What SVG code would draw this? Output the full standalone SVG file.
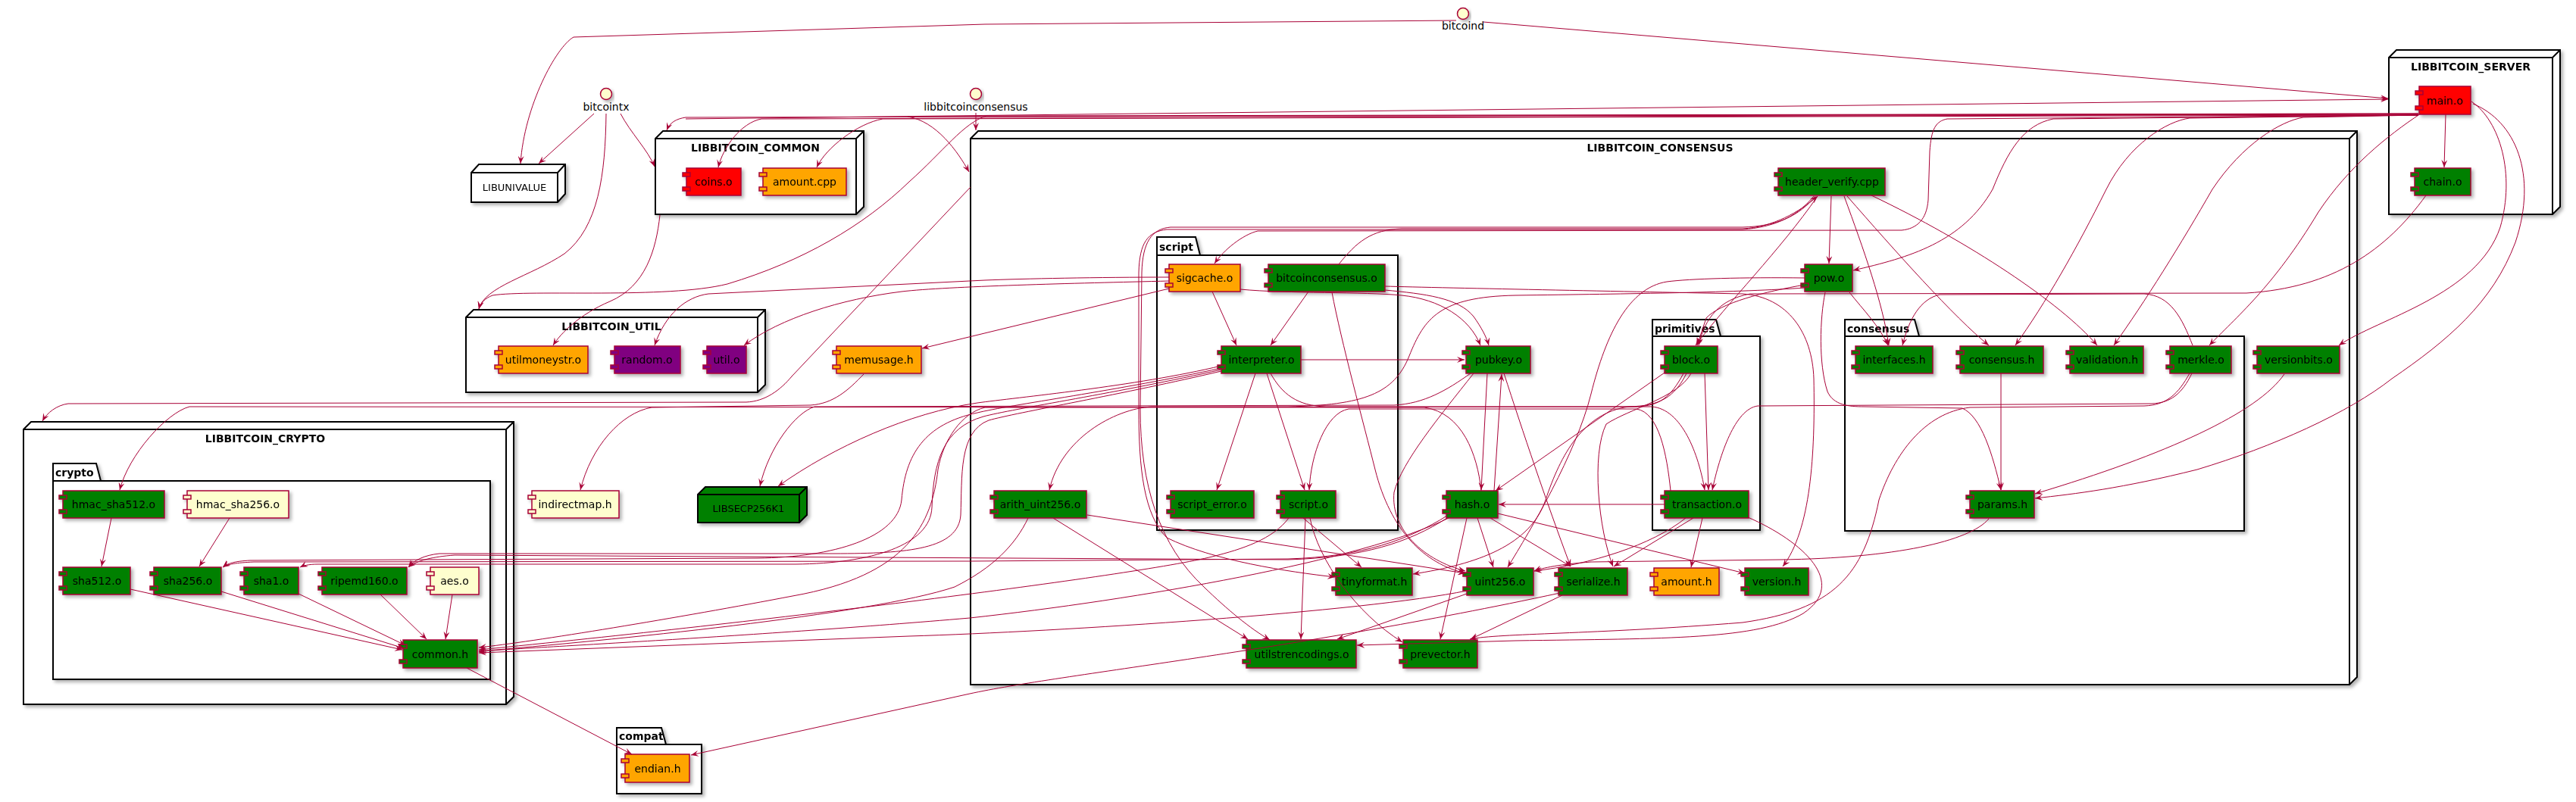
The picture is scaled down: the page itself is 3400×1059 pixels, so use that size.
<svg xmlns="http://www.w3.org/2000/svg" width="3400" height="1059" viewBox="0 0 3400 1059">
<style>
text{font-family:"DejaVu Sans","Liberation Sans",sans-serif;fill:#000}
.nd{fill:#fff;stroke:#000;stroke-width:2}
.ndl{fill:none;stroke:#000;stroke-width:2}
.ndt{font-size:14px;font-weight:bold;text-anchor:middle}
.lf{font-size:13px;text-anchor:middle}
.pk{fill:#fff;stroke:#000;stroke-width:2}
.pkt{font-size:14px;font-weight:bold}
.cp rect{stroke:#A80036;stroke-width:1.5}
.cp text{font-size:14px;text-anchor:middle}
.g rect{fill:#008000}.r rect{fill:#FF0000}.o rect{fill:#FFA500}.p rect{fill:#800080}.y rect{fill:#FEFECE}
.if circle{fill:#FEFECE;stroke:#A80036;stroke-width:1.5}
.if text{font-size:14px;text-anchor:middle}
.e path{fill:none;stroke:#A80036;stroke-width:1;marker-end:url(#a)}
</style>
<defs>
<marker id="a" viewBox="0 0 10 8" refX="10" refY="4" markerWidth="10" markerHeight="8" markerUnits="userSpaceOnUse" orient="auto"><path d="M0,0 L10,4 L0,8 L4,4 Z" fill="#A80036"/></marker>
<filter id="sh" x="-10%" y="-10%" width="130%" height="150%"><feDropShadow dx="3" dy="3" stdDeviation="2" flood-color="#000" flood-opacity="0.3"/></filter>
</defs>
<rect width="3400" height="1059" fill="#fff"/>

<!-- container nodes -->
<g id="LIBBITCOIN_CONSENSUS" filter="url(#sh)"><polygon class="nd" points="1281,183 1291,173 3111,173 3111,894 3101,904 1281,904"/><path class="ndl" d="M1281,183 L3101,183 L3111,173 M3101,183 L3101,904"/><text class="ndt" x="2191" y="200">LIBBITCOIN_CONSENSUS</text></g>
<g id="LIBBITCOIN_SERVER" filter="url(#sh)"><polygon class="nd" points="3153,76 3163,66 3379,66 3379,273 3369,283 3153,283"/><path class="ndl" d="M3153,76 L3369,76 L3379,66 M3369,76 L3369,283"/><text class="ndt" x="3261" y="93">LIBBITCOIN_SERVER</text></g>
<g id="LIBBITCOIN_COMMON" filter="url(#sh)"><polygon class="nd" points="865,183 875,173 1140,173 1140,273 1130,283 865,283"/><path class="ndl" d="M865,183 L1130,183 L1140,173 M1130,183 L1130,283"/><text class="ndt" x="997" y="200">LIBBITCOIN_COMMON</text></g>
<g id="LIBBITCOIN_UTIL" filter="url(#sh)"><polygon class="nd" points="615,419 625,409 1010,409 1010,508 1000,518 615,518"/><path class="ndl" d="M615,419 L1000,419 L1010,409 M1000,419 L1000,518"/><text class="ndt" x="807" y="436">LIBBITCOIN_UTIL</text></g>
<g id="LIBBITCOIN_CRYPTO" filter="url(#sh)"><polygon class="nd" points="31,567 41,557 678,557 678,920 668,930 31,930"/><path class="ndl" d="M31,567 L668,567 L678,557 M668,567 L668,930"/><text class="ndt" x="350" y="584">LIBBITCOIN_CRYPTO</text></g>
<g id="LIBUNIVALUE" filter="url(#sh)"><polygon class="nd" points="622,228 632,217 746,217 746,256 736,267 622,267"/><path class="ndl" d="M622,228 L736,228 L746,217 M736,228 L736,267"/><text class="lf" x="679" y="252">LIBUNIVALUE</text></g>
<g id="LIBSECP256K1" filter="url(#sh)"><polygon class="nd" style="fill:#008000" points="921,653 931,643 1065,643 1065,680 1055,690 921,690"/><path class="ndl" d="M921,653 L1055,653 L1065,643 M1055,653 L1055,690"/><text class="lf" x="988" y="676">LIBSECP256K1</text></g>

<!-- packages -->
<g id="pkg_script" filter="url(#sh)"><path class="pk" d="M1527,337 L1527,313 L1578,313 L1584,337 Z"/><rect class="pk" x="1527" y="337" width="318" height="363"/><text class="pkt" x="1530" y="331">script</text></g>
<g id="pkg_primitives" filter="url(#sh)"><path class="pk" d="M2181,444 L2181,422 L2265,422 L2271,444 Z"/><rect class="pk" x="2181" y="444" width="142" height="256"/><text class="pkt" x="2184" y="439">primitives</text></g>
<g id="pkg_consensus" filter="url(#sh)"><path class="pk" d="M2435,444 L2435,422 L2527,422 L2533,444 Z"/><rect class="pk" x="2435" y="444" width="527" height="257"/><text class="pkt" x="2438" y="439">consensus</text></g>
<g id="pkg_crypto" filter="url(#sh)"><path class="pk" d="M70,635 L70,612 L127,612 L133,635 Z"/><rect class="pk" x="70" y="635" width="577" height="262"/><text class="pkt" x="73" y="629">crypto</text></g>
<g id="pkg_compat" filter="url(#sh)"><path class="pk" d="M814,983 L814,961 L873,961 L879,983 Z"/><rect class="pk" x="814" y="983" width="112" height="65"/><text class="pkt" x="817" y="977">compat</text></g>

<!-- interfaces -->
<g id="bitcoind" class="if"><circle cx="1931" cy="18" r="7.5" filter="url(#sh)"/><text x="1931" y="39">bitcoind</text></g>
<g id="bitcointx" class="if"><circle cx="800" cy="124" r="7.5" filter="url(#sh)"/><text x="800" y="146">bitcointx</text></g>
<g id="libbitcoinconsensus" class="if"><circle cx="1288" cy="124" r="7.5" filter="url(#sh)"/><text x="1288" y="146">libbitcoinconsensus</text></g>

<!-- components -->
<g id="coins_o" class="cp r" filter="url(#sh)"><rect x="906" y="222" width="72" height="36"/><rect x="901" y="228" width="10" height="5"/><rect x="901" y="247" width="10" height="5"/><text x="942" y="245">coins.o</text></g>
<g id="amount_cpp" class="cp o" filter="url(#sh)"><rect x="1007" y="222" width="110" height="36"/><rect x="1002" y="228" width="10" height="5"/><rect x="1002" y="247" width="10" height="5"/><text x="1062" y="245">amount.cpp</text></g>
<g id="utilmoneystr_o" class="cp o" filter="url(#sh)"><rect x="658" y="457" width="118" height="36"/><rect x="653" y="463" width="10" height="5"/><rect x="653" y="482" width="10" height="5"/><text x="717" y="480">utilmoneystr.o</text></g>
<g id="random_o" class="cp p" filter="url(#sh)"><rect x="811" y="457" width="87" height="36"/><rect x="806" y="463" width="10" height="5"/><rect x="806" y="482" width="10" height="5"/><text x="854" y="480">random.o</text></g>
<g id="util_o" class="cp p" filter="url(#sh)"><rect x="933" y="457" width="52" height="36"/><rect x="928" y="463" width="10" height="5"/><rect x="928" y="482" width="10" height="5"/><text x="959" y="480">util.o</text></g>
<g id="memusage_h" class="cp o" filter="url(#sh)"><rect x="1104" y="457" width="112" height="36"/><rect x="1099" y="463" width="10" height="5"/><rect x="1099" y="482" width="10" height="5"/><text x="1160" y="480">memusage.h</text></g>
<g id="indirectmap_h" class="cp y" filter="url(#sh)"><rect x="702" y="648" width="115" height="36"/><rect x="697" y="654" width="10" height="5"/><rect x="697" y="673" width="10" height="5"/><text x="759" y="671">indirectmap.h</text></g>
<g id="hmac_sha512_o" class="cp g" filter="url(#sh)"><rect x="83" y="648" width="134" height="36"/><rect x="78" y="654" width="10" height="5"/><rect x="78" y="673" width="10" height="5"/><text x="150" y="671">hmac_sha512.o</text></g>
<g id="hmac_sha256_o" class="cp y" filter="url(#sh)"><rect x="247" y="648" width="134" height="36"/><rect x="242" y="654" width="10" height="5"/><rect x="242" y="673" width="10" height="5"/><text x="314" y="671">hmac_sha256.o</text></g>
<g id="sha512_o" class="cp g" filter="url(#sh)"><rect x="83" y="749" width="89" height="36"/><rect x="78" y="755" width="10" height="5"/><rect x="78" y="774" width="10" height="5"/><text x="128" y="772">sha512.o</text></g>
<g id="sha256_o" class="cp g" filter="url(#sh)"><rect x="203" y="749" width="89" height="36"/><rect x="198" y="755" width="10" height="5"/><rect x="198" y="774" width="10" height="5"/><text x="248" y="772">sha256.o</text></g>
<g id="sha1_o" class="cp g" filter="url(#sh)"><rect x="322" y="749" width="72" height="36"/><rect x="317" y="755" width="10" height="5"/><rect x="317" y="774" width="10" height="5"/><text x="358" y="772">sha1.o</text></g>
<g id="ripemd160_o" class="cp g" filter="url(#sh)"><rect x="425" y="749" width="112" height="36"/><rect x="420" y="755" width="10" height="5"/><rect x="420" y="774" width="10" height="5"/><text x="481" y="772">ripemd160.o</text></g>
<g id="aes_o" class="cp y" filter="url(#sh)"><rect x="568" y="749" width="64" height="36"/><rect x="563" y="755" width="10" height="5"/><rect x="563" y="774" width="10" height="5"/><text x="600" y="772">aes.o</text></g>
<g id="common_h" class="cp g" filter="url(#sh)"><rect x="532" y="845" width="98" height="37"/><rect x="527" y="851" width="10" height="5"/><rect x="527" y="871" width="10" height="5"/><text x="581" y="869">common.h</text></g>
<g id="endian_h" class="cp o" filter="url(#sh)"><rect x="825" y="996" width="85" height="37"/><rect x="820" y="1002" width="10" height="5"/><rect x="820" y="1022" width="10" height="5"/><text x="868" y="1020">endian.h</text></g>
<g id="main_o" class="cp r" filter="url(#sh)"><rect x="3193" y="114" width="68" height="37"/><rect x="3188" y="120" width="10" height="5"/><rect x="3188" y="140" width="10" height="5"/><text x="3227" y="138">main.o</text></g>
<g id="chain_o" class="cp g" filter="url(#sh)"><rect x="3187" y="222" width="74" height="36"/><rect x="3182" y="228" width="10" height="5"/><rect x="3182" y="247" width="10" height="5"/><text x="3224" y="245">chain.o</text></g>
<g id="header_verify_cpp" class="cp g" filter="url(#sh)"><rect x="2347" y="222" width="141" height="36"/><rect x="2342" y="228" width="10" height="5"/><rect x="2342" y="247" width="10" height="5"/><text x="2418" y="245">header_verify.cpp</text></g>
<g id="pow_o" class="cp g" filter="url(#sh)"><rect x="2382" y="349" width="63" height="36"/><rect x="2377" y="355" width="10" height="5"/><rect x="2377" y="374" width="10" height="5"/><text x="2414" y="372">pow.o</text></g>
<g id="sigcache_o" class="cp o" filter="url(#sh)"><rect x="1543" y="349" width="94" height="36"/><rect x="1538" y="355" width="10" height="5"/><rect x="1538" y="374" width="10" height="5"/><text x="1590" y="372">sigcache.o</text></g>
<g id="bitcoinconsensus_o" class="cp g" filter="url(#sh)"><rect x="1674" y="349" width="154" height="36"/><rect x="1669" y="355" width="10" height="5"/><rect x="1669" y="374" width="10" height="5"/><text x="1751" y="372">bitcoinconsensus.o</text></g>
<g id="interpreter_o" class="cp g" filter="url(#sh)"><rect x="1612" y="457" width="105" height="36"/><rect x="1607" y="463" width="10" height="5"/><rect x="1607" y="482" width="10" height="5"/><text x="1665" y="480">interpreter.o</text></g>
<g id="pubkey_o" class="cp g" filter="url(#sh)"><rect x="1935" y="457" width="85" height="36"/><rect x="1930" y="463" width="10" height="5"/><rect x="1930" y="482" width="10" height="5"/><text x="1978" y="480">pubkey.o</text></g>
<g id="block_o" class="cp g" filter="url(#sh)"><rect x="2197" y="457" width="70" height="36"/><rect x="2192" y="463" width="10" height="5"/><rect x="2192" y="482" width="10" height="5"/><text x="2232" y="480">block.o</text></g>
<g id="interfaces_h" class="cp g" filter="url(#sh)"><rect x="2449" y="457" width="102" height="36"/><rect x="2444" y="463" width="10" height="5"/><rect x="2444" y="482" width="10" height="5"/><text x="2500" y="480">interfaces.h</text></g>
<g id="consensus_h" class="cp g" filter="url(#sh)"><rect x="2587" y="457" width="110" height="36"/><rect x="2582" y="463" width="10" height="5"/><rect x="2582" y="482" width="10" height="5"/><text x="2642" y="480">consensus.h</text></g>
<g id="validation_h" class="cp g" filter="url(#sh)"><rect x="2732" y="457" width="97" height="36"/><rect x="2727" y="463" width="10" height="5"/><rect x="2727" y="482" width="10" height="5"/><text x="2781" y="480">validation.h</text></g>
<g id="merkle_o" class="cp g" filter="url(#sh)"><rect x="2864" y="457" width="81" height="36"/><rect x="2859" y="463" width="10" height="5"/><rect x="2859" y="482" width="10" height="5"/><text x="2905" y="480">merkle.o</text></g>
<g id="versionbits_o" class="cp g" filter="url(#sh)"><rect x="2979" y="457" width="109" height="36"/><rect x="2974" y="463" width="10" height="5"/><rect x="2974" y="482" width="10" height="5"/><text x="3034" y="480">versionbits.o</text></g>
<g id="arith_uint256_o" class="cp g" filter="url(#sh)"><rect x="1312" y="648" width="122" height="36"/><rect x="1307" y="654" width="10" height="5"/><rect x="1307" y="673" width="10" height="5"/><text x="1373" y="671">arith_uint256.o</text></g>
<g id="script_error_o" class="cp g" filter="url(#sh)"><rect x="1545" y="648" width="110" height="36"/><rect x="1540" y="654" width="10" height="5"/><rect x="1540" y="673" width="10" height="5"/><text x="1600" y="671">script_error.o</text></g>
<g id="script_o" class="cp g" filter="url(#sh)"><rect x="1690" y="648" width="73" height="36"/><rect x="1685" y="654" width="10" height="5"/><rect x="1685" y="673" width="10" height="5"/><text x="1727" y="671">script.o</text></g>
<g id="hash_o" class="cp g" filter="url(#sh)"><rect x="1909" y="648" width="68" height="36"/><rect x="1904" y="654" width="10" height="5"/><rect x="1904" y="673" width="10" height="5"/><text x="1943" y="671">hash.o</text></g>
<g id="transaction_o" class="cp g" filter="url(#sh)"><rect x="2197" y="648" width="111" height="36"/><rect x="2192" y="654" width="10" height="5"/><rect x="2192" y="673" width="10" height="5"/><text x="2253" y="671">transaction.o</text></g>
<g id="params_h" class="cp g" filter="url(#sh)"><rect x="2600" y="648" width="85" height="36"/><rect x="2595" y="654" width="10" height="5"/><rect x="2595" y="673" width="10" height="5"/><text x="2643" y="671">params.h</text></g>
<g id="tinyformat_h" class="cp g" filter="url(#sh)"><rect x="1763" y="750" width="101" height="36"/><rect x="1758" y="756" width="10" height="5"/><rect x="1758" y="775" width="10" height="5"/><text x="1814" y="773">tinyformat.h</text></g>
<g id="uint256_o" class="cp g" filter="url(#sh)"><rect x="1936" y="750" width="88" height="36"/><rect x="1931" y="756" width="10" height="5"/><rect x="1931" y="775" width="10" height="5"/><text x="1980" y="773">uint256.o</text></g>
<g id="serialize_h" class="cp g" filter="url(#sh)"><rect x="2057" y="750" width="91" height="36"/><rect x="2052" y="756" width="10" height="5"/><rect x="2052" y="775" width="10" height="5"/><text x="2103" y="773">serialize.h</text></g>
<g id="amount_h" class="cp o" filter="url(#sh)"><rect x="2183" y="750" width="86" height="36"/><rect x="2178" y="756" width="10" height="5"/><rect x="2178" y="775" width="10" height="5"/><text x="2226" y="773">amount.h</text></g>
<g id="version_h" class="cp g" filter="url(#sh)"><rect x="2303" y="750" width="84" height="36"/><rect x="2298" y="756" width="10" height="5"/><rect x="2298" y="775" width="10" height="5"/><text x="2345" y="773">version.h</text></g>
<g id="utilstrencodings_o" class="cp g" filter="url(#sh)"><rect x="1645" y="845" width="145" height="37"/><rect x="1640" y="851" width="10" height="5"/><rect x="1640" y="871" width="10" height="5"/><text x="1718" y="869">utilstrencodings.o</text></g>
<g id="prevector_h" class="cp g" filter="url(#sh)"><rect x="1852" y="845" width="98" height="37"/><rect x="1847" y="851" width="10" height="5"/><rect x="1847" y="871" width="10" height="5"/><text x="1901" y="869">prevector.h</text></g>

<!-- connectors -->
<g id="connectors" class="e">
<path d="M1922,27 L1300,32 L757,49 C734,62 692,140 687,216"/>
<path d="M1958,29 L3152,130"/>
<path d="M784,150 L711,216"/>
<path d="M819,150 C832,175 855,198 864,220"/>
<path d="M800,150 C799,230 790,300 745,335 C700,365 640,378 632,408"/>
<path d="M1288,149 L1288,172"/>
<path d="M3192,150 L905,155 C892,157 884,162 880,172"/>
<path d="M3192,151 L1005,157 C978,162 954,195 948,221"/>
<path d="M3192,152 L1165,157 C1132,163 1090,195 1078,221"/>
<path d="M3192,151 L1198,154 C1236,160 1264,200 1279,227"/>
<path d="M3192,150 L1302,153 C1272,162 1245,200 1200,240 C1140,298 1060,345 960,375 C880,395 700,382 650,390 C640,394 634,400 632,408"/>
<path d="M905,157 L3152,131"/>
<path d="M871,284 C866,330 852,378 805,398 C765,415 740,440 730,456"/>
<path d="M1543,366 C1450,366 1350,368 1300,370 L935,388 C905,392 878,415 864,456"/>
<path d="M1543,371 C1420,374 1250,378 1190,385 C1110,395 1030,420 982,456"/>
<path d="M1543,381 L1217,460"/>
<path d="M1140,494 C1120,515 1100,533 1070,535 L860,538 C820,545 780,590 766,647"/>
<path d="M1281,247 L1045,497 C1030,515 1010,530 985,531 L90,533 C75,535 62,545 56,556"/>
<path d="M1955,648 C1950,600 1930,545 1880,538 L250,537 C220,545 170,600 158,647"/>
<path d="M1941,493 C1910,515 1880,533 1840,535 L1075,537 C1050,545 1015,590 1003,642"/>
<path d="M1612,483 C1500,510 1340,525 1290,532 C1200,545 1100,590 1027,642"/>
<path d="M1612,486 C1480,515 1330,535 1290,545 C1220,560 1195,600 1190,660 C1185,710 1100,736 1000,737 L330,740 C310,741 300,744 294,749"/>
<path d="M1612,488 C1480,518 1335,540 1298,550 C1245,565 1232,610 1230,670 C1228,720 1150,744 1050,745 L420,745 C407,745 400,747 396,749"/>
<path d="M1612,490 C1485,520 1340,545 1305,555 C1265,570 1270,630 1268,680 C1265,725 1200,731 1100,731 L580,731 C560,733 546,740 539,749"/>
<path d="M1910,681 C1860,712 1800,735 1700,738 L1280,741 L335,742 C312,743 300,745 294,749"/>
<path d="M1910,684 C1860,716 1800,736 1700,739 L600,733 C572,735 550,740 539,749"/>
<path d="M1357,684 C1340,720 1310,750 1260,775 C1150,812 800,846 632,860"/>
<path d="M1701,684 C1680,712 1640,725 1600,735 C1500,760 1000,822 632,858"/>
<path d="M1936,780 C1800,808 1400,834 1200,840 L632,862"/>
<path d="M1912,684 C1800,740 1500,792 1280,816 C1000,840 700,855 632,860"/>
<path d="M2222,493 C2205,525 2190,536 2160,537 L1300,538 C1270,545 1245,580 1238,620 C1230,690 1200,760 1046,787 C900,815 700,848 632,855"/>
<path d="M2059,783 C1700,860 1400,890 1280,916 L912,997"/>
<path d="M616,882 L834,996"/>
<path d="M147,684 L134,748"/>
<path d="M303,684 L263,748"/>
<path d="M172,778 L531,858"/>
<path d="M292,781 L533,856"/>
<path d="M394,784 L535,852"/>
<path d="M502,785 L563,844"/>
<path d="M597,785 L588,844"/>
<path d="M1600,385 L1632,456"/>
<path d="M1727,385 L1677,456"/>
<path d="M1767,349 C1790,320 1810,303 1850,302 L2300,302 C2340,300 2375,280 2399,259"/>
<path d="M2396,259 C2375,285 2345,299 2300,300 L1545,300 C1520,302 1508,320 1507,360 L1505,540 C1505,640 1530,720 1589,775 C1620,805 1650,830 1676,845"/>
<path d="M3192,152 L2570,157 C2555,160 2549,170 2547,200 L2545,264 C2543,290 2530,302 2510,304 L1660,305 C1640,310 1615,330 1603,348"/>
<path d="M1637,382 C1700,388 1800,385 1850,390 C1900,395 1940,420 1954,456"/>
<path d="M1828,383 C1880,388 1925,393 1945,418 C1955,432 1962,445 1965,456"/>
<path d="M1717,475 L1933,475"/>
<path d="M1657,493 L1606,647"/>
<path d="M1672,493 L1722,647"/>
<path d="M2205,648 C2200,600 2190,545 2160,540 L1780,540 C1750,545 1730,600 1728,647"/>
<path d="M1677,493 C1692,520 1712,536 1750,537 L2180,537 C2220,540 2242,600 2250,647"/>
<path d="M1758,386 C1770,450 1800,560 1815,620 C1835,700 1880,745 1935,757"/>
<path d="M1963,493 L1955,647"/>
<path d="M1972,648 L1982,494"/>
<path d="M1985,493 C2010,570 2040,660 2073,748"/>
<path d="M1945,493 C1900,550 1850,610 1840,650 C1835,700 1880,740 1934,754"/>
<path d="M1950,684 L1971,749"/>
<path d="M1967,684 L2073,748"/>
<path d="M1936,684 L1901,844"/>
<path d="M1977,678 L2303,757"/>
<path d="M2200,490 L1974,648"/>
<path d="M2197,666 L1978,666"/>
<path d="M2247,684 L2232,749"/>
<path d="M2225,684 C2180,720 2100,745 2025,754"/>
<path d="M2235,684 L2130,748"/>
<path d="M2307,683 C2380,715 2440,770 2380,810 C2320,845 2200,843 2000,846 L1791,852"/>
<path d="M2890,493 C2875,520 2860,535 2830,536 L2600,538 C2540,545 2500,600 2480,660 C2460,760 2420,805 2300,822 C2100,838 1980,836 1940,844"/>
<path d="M2250,493 L2255,647"/>
<path d="M2382,367 C2300,366 2230,368 2200,372 C2150,380 2120,440 2100,520 C2080,600 2020,700 1990,749"/>
<path d="M2232,493 C2215,525 2150,540 2120,560 C2100,600 2110,700 2129,748"/>
<path d="M2226,493 C2210,525 2190,536 2150,537 C2090,545 2060,600 2040,660 C2020,720 1950,745 1865,758"/>
<path d="M2417,259 L2414,348"/>
<path d="M3192,152 L2710,157 C2670,165 2650,200 2630,250 C2590,320 2520,340 2446,357"/>
<path d="M2441,386 C2460,410 2480,430 2492,456"/>
<path d="M2409,386 C2402,420 2400,480 2412,517 C2420,535 2440,537 2460,537 L2590,539 C2615,550 2630,600 2641,647"/>
<path d="M2382,376 C2330,385 2270,400 2252,420 L2240,456"/>
<path d="M2382,380 C2300,386 2150,388 2000,390 C1900,392 1880,420 1860,470 C1840,520 1800,535 1700,537 L1520,537 C1470,540 1400,580 1385,647"/>
<path d="M3228,151 L3226,221"/>
<path d="M3202,258 C3150,330 3080,380 2965,387 L2310,388 C2270,395 2250,420 2242,456"/>
<path d="M2894,456 C2880,420 2865,390 2830,388 L2560,389 C2535,395 2520,420 2511,456"/>
<path d="M2434,259 C2460,330 2485,400 2493,456"/>
<path d="M2438,259 C2500,330 2580,420 2625,456"/>
<path d="M2470,258 C2600,320 2720,400 2768,456"/>
<path d="M3192,152 L2890,156 C2860,160 2810,190 2780,250 C2740,330 2700,400 2660,456"/>
<path d="M3192,152 L3040,155 C3010,160 2960,190 2920,250 C2880,320 2830,400 2790,456"/>
<path d="M3195,150 C3150,180 3100,220 3060,280 C3000,380 2950,420 2916,456"/>
<path d="M3262,134 C3300,160 3320,230 3300,300 C3270,390 3140,420 3087,456"/>
<path d="M3264,137 C3320,160 3350,230 3320,320 C3290,400 3230,450 3157,500 C3100,545 3000,590 2900,620 C2800,645 2740,652 2686,658"/>
<path d="M2641,493 L2641,647"/>
<path d="M3015,494 C2980,545 2860,600 2686,652"/>
<path d="M2893,493 C2880,520 2865,532 2840,533 L2320,536 C2290,540 2270,600 2260,647"/>
<path d="M1828,378 C1900,380 2200,386 2300,388 C2360,392 2392,440 2394,500 C2396,600 2390,700 2353,748"/>
<path d="M2625,685 C2600,715 2500,737 2350,739 L2100,742 C2060,745 2035,750 2025,754"/>
<path d="M1936,784 L1765,844"/>
<path d="M2062,786 L1941,844"/>
<path d="M1390,684 L1647,844"/>
<path d="M1435,680 L1934,757"/>
<path d="M1720,684 L1797,749"/>
<path d="M1723,684 L1717,844"/>
<path d="M1729,684 C1740,740 1790,810 1851,848"/>
<path d="M2399,259 C2350,330 2280,400 2238,456"/>
<path d="M2394,259 C2370,288 2340,300 2300,303 L1540,303 C1515,306 1504,320 1503,360 L1503,540 C1503,620 1510,680 1540,710 C1600,740 1700,755 1762,762"/>
</g>
</svg>
